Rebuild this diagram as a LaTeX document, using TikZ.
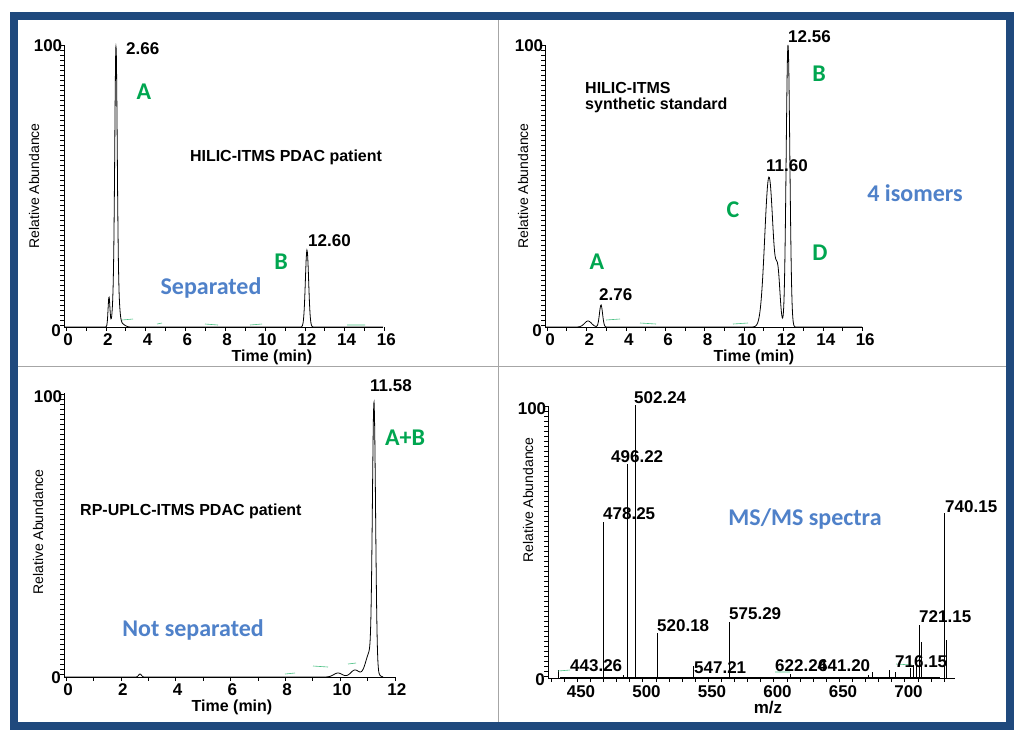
\documentclass[tikz,border=0pt]{standalone}
\usepackage{fontspec}
\setmainfont{Liberation Sans}
\newfontfamily\calfont{Carlito}
\begin{document}
\begin{tikzpicture}[x=1pt,y=-1pt,
  declare function={gs(\u)=exp(-(min(abs(\u),8))^2);},
  num/.style={font=\fontsize{17}{19}\selectfont\bfseries,inner sep=0pt},
  tim/.style={font=\fontsize{16}{18}\selectfont\bfseries,inner sep=0pt},
  ttl/.style={font=\fontsize{16}{18}\selectfont\bfseries,inner sep=0pt,align=left},
  ylab/.style={font=\fontsize{14}{16}\selectfont,rotate=90,inner sep=0pt},
  grn/.style={font=\fontsize{24}{26}\selectfont\calfont\bfseries,text=greenA,inner sep=0pt},
  blu/.style={font=\fontsize{24}{26}\selectfont\calfont\bfseries,text=blueA,inner sep=0pt},
  trace/.style={black,line width=0.8pt},
  ax/.style={black,line width=0.6pt}]
\definecolor{frameB}{RGB}{31,73,125}
\definecolor{greenA}{RGB}{0,166,80}
\definecolor{blueA}{RGB}{79,129,201}
\useasboundingbox (0,0) rectangle (1024,740);
\fill[white] (0,0) rectangle (1024,740);
\draw[frameB,line width=8pt] (14,16) rectangle (1010,726);
\draw[gray!70,line width=0.8pt] (498,20) -- (498,722);
\draw[gray!70,line width=0.8pt] (18,366) -- (1006,366);

% ---------- Panel TL ----------
\draw[ax] (64,45) -- (64,327) -- (383,327);
\foreach \i in {0,...,56} \draw[ax] (64,{45+\i*5}) -- (60,{45+\i*5});
\foreach \t in {0,...,16} \draw[ax] ({66+19.9*\t},327) -- ({66+19.9*\t},331);
\foreach \t in {0,2,...,16} \node[num] at ({68+19.9*\t},340) {\t};
\node[num] (tl100) at (48,46) {100};
\node[num] (tl0) at (56,331) {0};
\node[tim] at (272,357) {Time (min)};
\node[ylab] at (34,186) {Relative Abundance};
\draw[trace] plot[domain=64:383,samples=500,smooth] (\x,{327-200*gs((\x-116)/1.6)-30*gs((\x-109)/1.3)-82*gs((\x-116)/3)-77*gs((\x-307)/2.3)-3*gs((\x-122)/4)});
\draw[greenA!70,line width=0.6pt] (122,320)--(133,319) (157,324)--(162,323) (205,324)--(218,325) (250,325)--(262,324) (347,325)--(365,325);
\node[num,anchor=west] at (126,49) {2.66};
\node[num,anchor=west] at (308,241) {12.60};
\node[grn] at (144,92) {A};
\node[grn] at (281,262) {B};
\node[blu] at (211,288) {Separated};
\node[ttl] at (286,157) {HILIC-ITMS PDAC patient};

% ---------- Panel TR ----------
\draw[ax] (545,45) -- (545,327) -- (862,327);
\foreach \i in {0,...,56} \draw[ax] (545,{45+\i*5}) -- (541,{45+\i*5});
\foreach \t in {0,...,16} \draw[ax] ({547+19.7*\t},327) -- ({547+19.7*\t},331);
\foreach \t in {0,2,...,16} \node[num] at ({550+19.7*\t},340) {\t};
\node[num] at (529,46) {100};
\node[num] at (537,331) {0};
\node[tim] at (754,357) {Time (min)};
\node[ylab] at (523,186) {Relative Abundance};
\draw[trace] plot[domain=545:862,samples=600,smooth] (\x,{327-22*gs((\x-601)/2.2)-6*gs((\x-588)/5)-150*gs((\x-769)/6)-45*gs((\x-778)/3)-282*gs((\x-788)/2.6)});
\draw[greenA!70,line width=0.6pt] (606,320)--(620,319) (640,323)--(656,324) (733,324)--(748,323);
\node[num,anchor=west] at (788,37) {12.56};
\node[num,anchor=west] at (766,166) {11.60};
\node[num,anchor=west] at (599,295) {2.76};
\node[ttl,anchor=west] at (585,98) {HILIC-ITMS\\[-2pt]synthetic standard};
\node[grn] at (819,74) {B};
\node[grn] at (733,210) {C};
\node[grn] at (820,253) {D};
\node[grn] at (597,262) {A};
\node[blu] at (915,193) {4 isomers};

% ---------- Panel BL ----------
\draw[ax] (64,393) -- (64,677) -- (395,677);
\foreach \i in {0,...,56} \draw[ax] (64,{394+\i*5}) -- (60,{394+\i*5});
\foreach \t in {0,...,12} \draw[ax] ({66+27.4*\t},677) -- ({66+27.4*\t},681);
\foreach \t in {0,2,...,12} \node[num] at ({68+27.4*\t},690) {\t};
\node[num] at (48,397) {100};
\node[num] at (56,678) {0};
\node[tim] at (232,707) {Time (min)};
\node[ylab] at (38,532) {Relative Abundance};
\draw[trace] plot[domain=64:383,samples=500,smooth] (\x,{677-259*gs((\x-374)/2.2)-25*gs((\x-370)/6)-7*gs((\x-355)/6)-4*gs((\x-338)/6)-3*gs((\x-140)/2)});
\draw[greenA!70,line width=0.6pt] (285,674)--(295,673) (313,666)--(328,667) (348,664)--(356,663);
\node[num,anchor=west] at (370,386) {11.58};
\node[ttl,anchor=west] at (80,511) {RP-UPLC-ITMS PDAC patient};
\node[grn] at (405,438) {A+B};
\node[blu] at (193,630) {Not separated};

% ---------- Panel BR ----------
\draw[ax] (548,406) -- (548,678) -- (955,678);
\foreach \i in {0,...,54} \draw[ax] (548,{406+\i*5}) -- (544,{406+\i*5});
\foreach \i in {0,...,30} \draw[ax] ({551+13.1*\i},678) -- ({551+13.1*\i},682);
\foreach \m [count=\k from 0] in {450,500,550,600,650,700} \node[num] at ({581+65.5*\k},692) {\m};
\node[num] at (532,409) {100};
\node[num] at (540,680) {0};
\node[num] at (768,707) {m/z};
\node[ylab] at (528,500) {Relative Abundance};
\foreach \px/\py in {603/522,627/464,635/405,657/633,729/622,919/625,944/513,946/640,921/642,558/670,916/660,913/665,910/668,889/670,895/672,872/672,693/666,623/675,790/674,868/675}
  \draw[trace] (\px,678) -- (\px,\py);
\draw[trace] (560,677)--(940,677);
\draw[greenA!70,line width=0.6pt] (558,671)--(570,670) (775,672)--(790,672) (896,664)--(912,665);
\node[num,anchor=west] at (603,514) {478.25};
\node[num,anchor=west] at (611,457) {496.22};
\node[num,anchor=west] at (634,398) {502.24};
\node[num,anchor=west] at (657,626) {520.18};
\node[num,anchor=west] at (729,614) {575.29};
\node[num,anchor=west] at (919,617) {721.15};
\node[num,anchor=west] at (945,507) {740.15};
\node[num,anchor=west] at (570,666) {443.26};
\node[num,anchor=west] at (694,668) {547.21};
\node[num,anchor=west] at (775,666) {622.24};
\node[num,anchor=west] at (818,666) {641.20};
\node[num,anchor=west] at (895,662) {716.15};
\node[blu] at (805,519) {MS/MS spectra};
\end{tikzpicture}
\end{document}
